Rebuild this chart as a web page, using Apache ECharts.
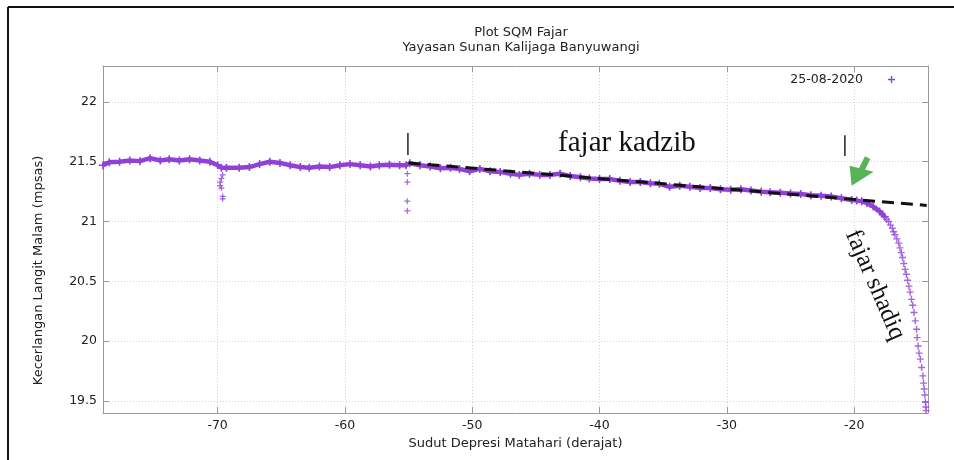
<!DOCTYPE html>
<html>
  <head>
    <meta charset="utf-8" />
    <title>Plot SQM Fajar</title>
    <script src="https://cdn.jsdelivr.net/npm/echarts@6/dist/echarts.min.js"></script>
  </head>
  <body style="margin: 0; background: #fff">
    <div id="main" style="width: 954px; height: 460px"></div>
  </body>

  <script>
    // sudut depresi matahari (derajat) vs kecerlangan langit (mpsas)
    var angle = [
      -79.0, -78.5, -77.7, -76.9, -76.1, -75.3, -74.5, -73.8, -73.0, -72.2,
      -71.4, -70.6, -70.0, -69.7, -69.3, -68.3, -67.5, -66.7, -65.9, -65.1,
      -64.3, -63.5, -62.8, -62.0, -61.2, -60.4, -59.6, -58.8, -58.0, -57.3,
      -56.5, -55.7, -55.2, -54.9, -54.1, -53.3, -52.5, -51.7, -51.0, -50.2,
      -49.4, -48.6, -47.8, -47.0, -46.3, -45.5, -44.7, -43.9, -43.1, -42.3,
      -41.5, -40.8, -40.0, -39.2, -38.4, -37.6, -36.8, -36.0, -35.3, -34.5,
      -33.7, -32.9, -32.1, -31.3, -30.5, -29.7, -28.9, -28.1, -27.3, -26.6,
      -25.8, -25.0, -24.2, -23.4, -22.6, -21.8, -21.0, -20.2, -19.8, -19.4,
      -19.0, -18.5, -18.0, -17.6
    ];
    var brightness = [
      21.47, 21.495, 21.5, 21.51, 21.505, 21.53, 21.51, 21.52, 21.51, 21.52,
      21.51, 21.5, 21.47, 21.45, 21.45, 21.45, 21.455, 21.48, 21.5, 21.49,
      21.47, 21.455, 21.45, 21.46, 21.455, 21.47, 21.48, 21.47, 21.46, 21.47,
      21.475, 21.47, 21.47, 21.487, 21.47, 21.46, 21.445, 21.45, 21.44, 21.42,
      21.44, 21.42, 21.415, 21.4, 21.39, 21.4, 21.39, 21.39, 21.4, 21.38,
      21.37, 21.36, 21.355, 21.355, 21.34, 21.33, 21.33, 21.32, 21.315, 21.29,
      21.3, 21.29, 21.28, 21.28, 21.27, 21.265, 21.27, 21.26, 21.25, 21.245,
      21.24, 21.235, 21.23, 21.22, 21.215, 21.21, 21.195, 21.18, 21.175, 21.17,
      21.155, 21.125, 21.085, 21.04
    ];
    // fajar shadiq: turun tajam
    var dropAngle = [
      -17.45, -17.3, -17.15, -17.0, -16.9, -16.8, -16.65, -16.5, -16.4, -16.3,
      -16.2, -16.1, -16.0, -15.9, -15.8, -15.7, -15.6, -15.5, -15.4, -15.3,
      -15.2, -15.1, -15.05, -14.98, -14.9, -14.8, -14.7, -14.6, -14.55, -14.5,
      -14.45, -14.4, -14.37, -14.35
    ];
    var dropBrightness = [
      21.02, 21.0, 20.97, 20.945, 20.915, 20.89, 20.855, 20.82, 20.78, 20.74,
      20.7, 20.65, 20.6, 20.56, 20.51, 20.46, 20.41, 20.35, 20.3, 20.24,
      20.17, 20.1, 20.03, 19.96, 19.9, 19.85, 19.78, 19.71, 19.65, 19.6,
      19.55, 19.49, 19.45, 19.42
    ];
    // titik-titik menyimpang
    var spikeAngle = [-69.6, -69.7, -69.8, -69.8, -69.7, -69.6, -69.6, -55.1, -55.1, -55.1, -55.1];
    var spikeBrightness = [21.39, 21.36, 21.33, 21.3, 21.28, 21.21, 21.19, 21.4, 21.33, 21.17, 21.09];
    // garis tren fajar kadzib
    var trendAngle = [-55, -14.3];
    var trendBrightness = [21.49, 21.135];

    var xTicks = [-70, -60, -50, -40, -30, -20];
    var yTicks = [19.5, 20, 20.5, 21, 21.5, 22];

    var purple = "#9040d6";
    var plus = "path://M4,0H6V4H10V6H6V10H4V6H0V4H4Z";
    var font = "DejaVu Sans";

    function zip(xs, ys) {
      return xs.map(function (x, i) {
        return [x, ys[i]];
      });
    }

    var myChart = echarts.init(document.getElementById("main"));

    var gridLine = { show: true, lineStyle: { color: "#d6d6d6", type: [1, 2], width: 1 } };
    var border = { show: true, lineStyle: { color: "#9a9a9a", width: 1 } };
    var tick = { show: true, inside: true, length: 6, lineStyle: { color: "#9a9a9a" } };

    option = {
      animation: false,
      backgroundColor: "#fff",
      title: {
        text: "Plot SQM Fajar\nYayasan Sunan Kalijaga Banyuwangi",
        left: 516,
        top: 20,
        textAlign: "center",
        textStyle: { fontFamily: font, fontSize: 13, fontWeight: "normal", color: "#222", lineHeight: 15 },
      },
      legend: {
        data: [{ name: "25-08-2020", icon: plus }],
        align: "right",
        right: 59,
        top: 73,
        padding: 0,
        itemWidth: 7,
        itemHeight: 7,
        selectedMode: false,
        textStyle: { fontFamily: font, fontSize: 12.5, color: "#222", padding: [0, 20, 0, 0] },
      },
      grid: { left: 103, right: 26, top: 66, bottom: 47 },
      xAxis: [
        {
          type: "value",
          min: -79,
          max: -14.2,
          splitNumber: 6,
          name: "Sudut Depresi Matahari (derajat)",
          nameLocation: "middle",
          nameGap: 22,
          nameTextStyle: { fontFamily: font, fontSize: 13, color: "#222" },
          axisLine: border,
          axisTick: tick,
          splitLine: gridLine,
          axisLabel: {
            fontFamily: font,
            fontSize: 12.5,
            color: "#222",
            margin: 6,
            formatter: function (v) {
              return xTicks.indexOf(v) >= 0 ? String(v) : "";
            },
          },
        },
        {
          type: "value",
          position: "top",
          min: -79,
          max: -14.2,
          splitNumber: 6,
          axisLine: border,
          axisTick: tick,
          splitLine: { show: false },
          axisLabel: { show: false },
        },
      ],
      yAxis: [
        {
          type: "value",
          min: 19.4,
          max: 22.3,
          splitNumber: 6,
          name: "Kecerlangan Langit Malam (mpsas)",
          nameLocation: "middle",
          nameGap: 58,
          nameTextStyle: { fontFamily: font, fontSize: 13, color: "#222", padding: [0, 62, 0, 0] },
          axisLine: border,
          axisTick: tick,
          splitLine: gridLine,
          axisLabel: {
            fontFamily: font,
            fontSize: 12.5,
            color: "#222",
            margin: 6,
            formatter: function (v) {
              return yTicks.indexOf(v) >= 0 ? String(v) : "";
            },
          },
        },
        {
          type: "value",
          position: "right",
          min: 19.4,
          max: 22.3,
          splitNumber: 6,
          axisLine: border,
          axisTick: tick,
          splitLine: { show: false },
          axisLabel: { show: false },
        },
      ],
      series: [
        {
          name: "25-08-2020",
          type: "line",
          data: zip(angle, brightness),
          symbol: plus,
          symbolSize: 8,
          showSymbol: true,
          itemStyle: { color: purple },
          lineStyle: { color: purple, width: 4.5 },
          z: 2,
        },
        {
          name: "25-08-2020",
          type: "scatter",
          data: zip(dropAngle, dropBrightness),
          symbol: plus,
          symbolSize: 7,
          itemStyle: { color: purple },
          z: 2,
        },
        {
          name: "25-08-2020",
          type: "scatter",
          data: zip(spikeAngle, spikeBrightness),
          symbol: plus,
          symbolSize: 6,
          itemStyle: { color: purple },
          z: 2,
        },
        {
          name: "tren",
          type: "line",
          data: zip(trendAngle, trendBrightness),
          symbol: "none",
          lineStyle: { color: "#111", width: 3, type: [12, 7] },
          z: 3,
        },
      ],
    };

    myChart.setOption(option);

    // anotasi (koordinat data)
    var bars = [
      [-55.05, 21.74, 21.556],
      [-20.73, 21.722, 21.547],
    ];
    var kadzibAt = [-37.85, 21.65];
    var shadiqAt = [-18.37, 20.47];
    var arrowTip = [-20.2, 21.3];

    function px(x, y) {
      return myChart.convertToPixel({ seriesIndex: 0 }, [x, y]);
    }

    var g = [
      { type: "line", shape: { x1: 8, y1: 7, x2: 954, y2: 7 }, style: { stroke: "#111", lineWidth: 2 } },
      { type: "line", shape: { x1: 8, y1: 7, x2: 8, y2: 460 }, style: { stroke: "#111", lineWidth: 2 } },
    ];
    bars.forEach(function (b) {
      var a = px(b[0], b[1]);
      var c = px(b[0], b[2]);
      g.push({ type: "line", shape: { x1: a[0], y1: a[1], x2: c[0], y2: c[1] }, style: { stroke: "#222", lineWidth: 1.5 }, z: 10 });
    });
    var k = px(kadzibAt[0], kadzibAt[1]);
    g.push({
      type: "text",
      x: k[0],
      y: k[1],
      z: 10,
      style: { text: "fajar kadzib", font: '29px "Liberation Serif"', fill: "#111", align: "center", verticalAlign: "middle", textAlign: "center", textVerticalAlign: "middle" },
    });
    var s = px(shadiqAt[0], shadiqAt[1]);
    g.push({
      type: "text",
      x: s[0],
      y: s[1],
      rotation: (-66.4 * Math.PI) / 180,
      z: 10,
      style: { text: "fajar shadiq", font: '25px "Liberation Serif"', fill: "#111", align: "center", verticalAlign: "middle", textAlign: "center", textVerticalAlign: "middle" },
    });
    var t = px(arrowTip[0], arrowTip[1]);
    g.push({
      type: "polygon",
      x: t[0],
      y: t[1],
      z: 10,
      shape: { points: [[0, 0], [-2, -20], [22, -14]] },
      style: { fill: "#58b258" },
    });
    g.push({
      type: "polygon",
      x: t[0],
      y: t[1],
      z: 10,
      shape: { points: [[7.3, -17.4], [13.3, -29.4], [18.7, -26.7], [12.7, -14.7]] },
      style: { fill: "#58b258" },
    });
    myChart.setOption({ graphic: g });
  </script>
</html>
